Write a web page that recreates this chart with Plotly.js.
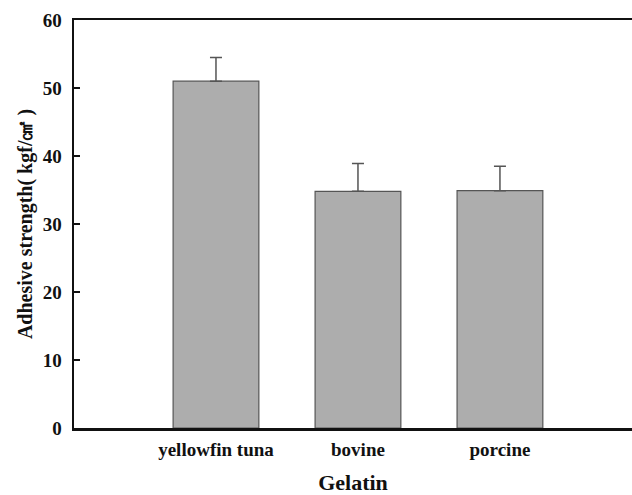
<!DOCTYPE html>
<html>
<head>
<meta charset="utf-8">
<script src="https://cdn.plot.ly/plotly-3.0.1.min.js"></script>
<style>html,body{margin:0;padding:0;background:#fff;}</style>
</head>
<body>
<div id="chart" style="width:632px;height:495px;"></div>
<script>
var categories = ["yellowfin tuna", "bovine", "porcine"];
var strength = [51.0, 34.8, 34.9];
var errorUp = [3.5, 4.1, 3.6];
var yTicks = [0, 10, 20, 30, 40, 50, 60];

var font = "Liberation Serif";

var trace = {
  type: "bar",
  x: categories,
  y: strength,
  marker: {color: "#adadad", line: {color: "#555555", width: 1.2}},
  error_y: {type: "data", symmetric: false, array: errorUp, arrayminus: [0, 0, 0],
            color: "#555555", thickness: 1.5, width: 6},
  hoverinfo: "skip"
};

var layout = {
  width: 632, height: 495,
  margin: {l: 74, r: 0, t: 20, b: 67},
  paper_bgcolor: "#ffffff", plot_bgcolor: "#ffffff",
  bargap: 0.396,
  showlegend: false,
  font: {family: font, color: "#111111"},
  xaxis: {
    type: "category",
    range: [-1, 2.93],
    showline: true, linecolor: "#111111", linewidth: 2.5, mirror: true,
    showgrid: false, zeroline: false, ticks: "",
    ticklabelstandoff: 3,
    tickfont: {family: font, size: 19, weight: "bold", color: "#111111"},
    title: {text: "<b>Gelatin</b>", font: {family: font, size: 22, color: "#111111"}, standoff: 30}
  },
  yaxis: {
    range: [0, 60],
    tickvals: yTicks,
    showline: true, linecolor: "#111111", linewidth: 2.5, mirror: false,
    showgrid: false, zeroline: false,
    ticks: "inside", ticklen: 6, tickwidth: 2, tickcolor: "#111111",
    ticklabelstandoff: 6,
    tickfont: {family: font, size: 19, weight: "bold", color: "#111111"},
    title: {text: "<b>Adhesive strength( kgf/㎠ )</b>", font: {family: font, size: 20, color: "#111111"}, standoff: 5}
  }
};

Plotly.newPlot("chart", [trace], layout, {displayModeBar: false, staticPlot: true});
</script>
</body>
</html>
